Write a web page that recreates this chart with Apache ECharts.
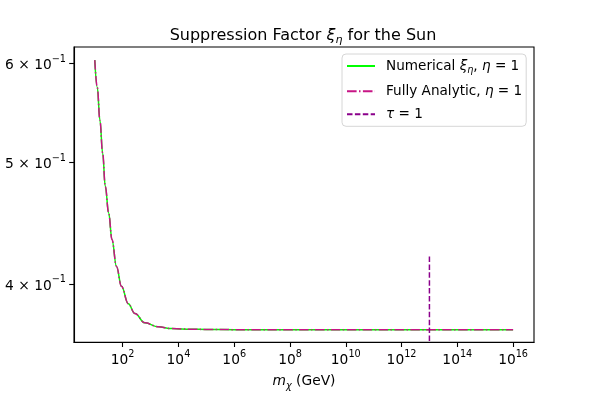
<!DOCTYPE html>
<html><head><meta charset="utf-8">
<script src="https://cdn.jsdelivr.net/npm/echarts@6/dist/echarts.min.js"></script>
<style>html,body{margin:0;padding:0;background:#fff}#c{width:594px;height:396px}</style>
</head><body><div id="c"></div>
<script>
// ---- data ----
const massGeV = [10, 12.3, 15.3, 19.2, 23.8, 31.5, 41.3, 60, 90.6, 159, 276, 630, 1890, 5700, 29700,
  1e5, 1e6, 1e7, 1e8, 1e9, 1e10, 1e11, 1e12, 1e13, 1e14, 1e15, 1e16];
const numericalXi = [0.6036, 0.5742, 0.5404, 0.5087, 0.4786, 0.4558, 0.4341, 0.4131, 0.3983, 0.3857, 0.3788, 0.3724, 0.3697, 0.3685, 0.3681,
  0.3679, 0.3678, 0.3678, 0.3678, 0.3678, 0.3678, 0.3678, 0.3678, 0.3678, 0.3678, 0.3678, 0.3678];
const analyticXi = [0.6036, 0.5742, 0.5404, 0.5087, 0.4786, 0.4558, 0.4341, 0.4131, 0.3983, 0.3857, 0.3788, 0.3724, 0.3697, 0.3685, 0.3681,
  0.3679, 0.3678, 0.3678, 0.3678, 0.3678, 0.3678, 0.3678, 0.3678, 0.3678, 0.3678, 0.3678, 0.3678];
const tauLineX = [1e13, 1e13];
const tauLineY = [0.3602, 0.4211];
const xTickValues = [1e2, 1e4, 1e6, 1e8, 1e10, 1e12, 1e14, 1e16];
const yTickValues = [0.4, 0.5, 0.6];
const xRange = [1.8, 5.62e16];
const yRange = [0.3594, 0.6183];

const FONT = 'DejaVu Sans';
const pair = (xs, ys) => xs.map((x, i) => [x, ys[i]]);
const supRich = {
  b: {fontFamily: FONT, fontSize: 13.8, color: '#000', lineHeight: 18, verticalAlign: 'bottom'},
  s: {fontFamily: FONT, fontSize: 9.7, color: '#000', lineHeight: 18, verticalAlign: 'top'}
};
const mathRich = (size, sub) => ({
  a: {fontFamily: FONT, fontSize: size, color: '#000', fontWeight: 'normal', lineHeight: size + 5},
  i: {fontFamily: FONT, fontSize: size, color: '#000', fontWeight: 'normal', fontStyle: 'italic', lineHeight: size + 5},
  s: {fontFamily: FONT, fontSize: sub, color: '#000', fontWeight: 'normal', fontStyle: 'italic', lineHeight: size + 5, verticalAlign: 'bottom'}
});

const chart = echarts.init(document.getElementById('c'), null, {renderer: 'canvas'});
chart.setOption({
  animation: false,
  backgroundColor: '#fff',
  title: {
    text: '{a|Suppression Factor }{i|ξ}{s|η}{a| for the Sun}',
    left: 298, top: 20, textAlign: 'center',
    textStyle: {fontWeight: 'normal', rich: mathRich(16, 11)}
  },
  legend: {
    orient: 'vertical', left: 342, top: 54,
    itemWidth: 28, itemHeight: 14, itemGap: 9,
    padding: [5, 4, 5, 4],
    borderColor: '#d6d6d6', borderWidth: 1, borderRadius: 4,
    backgroundColor: 'rgba(255,255,255,0.8)',
    itemStyle: {opacity: 0},
    data: ['num', 'ana', 'tau'],
    formatter: function (n) {
      if (n === 'num') return '{a|Numerical }{i|ξ}{s|η}{a|, }{i|η}{a| = 1}';
      if (n === 'ana') return '{a|Fully Analytic, }{i|η}{a| = 1}';
      return '{i|τ}{a| = 1}';
    },
    textStyle: {padding: [0, 0, 0, 6], rich: mathRich(13.6, 9.6)}
  },
  grid: {left: 74, right: 60, top: 47, bottom: 51, show: true, borderColor: '#000', borderWidth: 1.1},
  xAxis: {
    type: 'log', min: xRange[0], max: xRange[1],
    name: '{i|m}{s|χ}{a| (GeV)}', nameLocation: 'middle', nameGap: 30,
    nameTextStyle: {rich: mathRich(13.8, 9.7)},
    axisLine: {show: true, lineStyle: {color: '#000', width: 1.1}},
    axisTick: {show: true, length: 4.8, customValues: xTickValues, lineStyle: {color: '#000', width: 1.1}},
    minorTick: {show: false},
    splitLine: {show: false},
    axisLabel: {
      customValues: xTickValues, margin: 7,
      formatter: function (v) { return '{b|10}{s|' + Math.round(Math.log10(v)) + '}'; },
      rich: supRich
    }
  },
  yAxis: {
    type: 'log', min: yRange[0], max: yRange[1],
    axisLine: {show: true, lineStyle: {color: '#000', width: 1.1}},
    axisTick: {show: true, length: 4.8, customValues: yTickValues, lineStyle: {color: '#000', width: 1.1}},
    minorTick: {show: false},
    splitLine: {show: false},
    axisLabel: {
      customValues: yTickValues, margin: 8,
      formatter: function (v) {
        const e = Math.floor(Math.log10(v) + 1e-9);
        const m = Math.round(v / Math.pow(10, e));
        return '{b|' + m + ' × 10}{s|' + (e < 0 ? '−' + (-e) : e) + '}';
      },
      rich: supRich
    }
  },
  series: [
    {name: 'num', type: 'line', data: pair(massGeV, numericalXi), showSymbol: false, symbol: 'none',
     smooth: 0.4, smoothMonotone: 'x', lineStyle: {color: '#00ff00', width: 1.5}, itemStyle: {color: '#00ff00'}, z: 2},
    {name: 'ana', type: 'line', data: pair(massGeV, analyticXi), showSymbol: false, symbol: 'none',
     smooth: 0.4, smoothMonotone: 'x', lineStyle: {color: '#c71585', width: 1.5, type: [9.6, 2.4, 1.5, 2.4]}, itemStyle: {color: '#c71585'}, z: 3},
    {name: 'tau', type: 'line', data: pair(tauLineX, tauLineY), showSymbol: false, symbol: 'none',
     lineStyle: {color: '#8b008b', width: 1.5, type: [5.5, 2.4]}, itemStyle: {color: '#8b008b'}, z: 4}
  ]
});
</script>
</body></html>
